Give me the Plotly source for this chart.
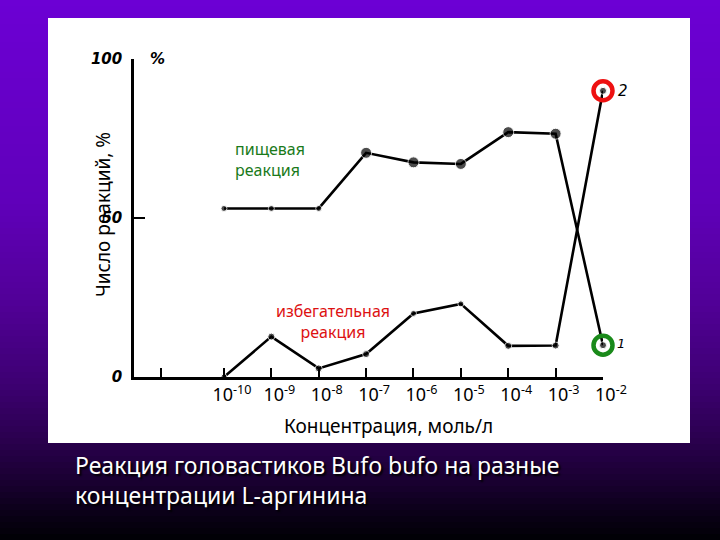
import plotly.graph_objects as go

W, H = 720, 540

# ---- data ----
exponents = [-10, -9, -8, -7, -6, -5, -4, -3, -2]
tick_labels = ["10<sup>-10</sup>", "10<sup>-9</sup>", "10<sup>-8</sup>", "10<sup>-7</sup>",
               "10<sup>-6</sup>", "10<sup>-5</sup>", "10<sup>-4</sup>", "10<sup>-3</sup>",
               "10<sup>-2</sup>"]
food = [53, 53, 53, 70.5, 67.5, 67, 77, 76.5, 10]        # пищевая реакция (1)
avoid = [0, 12.7, 2.7, 7.2, 20, 23, 9.8, 9.9, 90]        # избегательная реакция (2)
food_sizes = [6, 6, 6, 11, 11, 11, 11, 11, 7]
avoid_sizes = [6, 7, 7, 7, 6, 6, 7, 7, 7]
y_ticks = [0, 50, 100]
y_tick_labels = ["0", "50", "100"]


def px(x):
    return x / W


def py(y):
    return 1 - y / H


x_left = -10 - (224 - 134) / 47.4

fig = go.Figure()

fig.add_trace(go.Scatter(
    x=exponents, y=food, mode="lines+markers",
    line=dict(color="black", width=2.6),
    marker=dict(color="black", size=food_sizes),
    cliponaxis=False, showlegend=False))
fig.add_trace(go.Scatter(
    x=exponents, y=avoid, mode="lines+markers",
    line=dict(color="black", width=2.6),
    marker=dict(color="black", size=avoid_sizes),
    cliponaxis=False, showlegend=False))
fig.add_trace(go.Scatter(
    x=[exponents[-1]], y=[avoid[-1]], mode="markers",
    marker=dict(symbol="circle-open", size=19, color="#ee1111", line=dict(width=4.5)),
    cliponaxis=False, showlegend=False))
fig.add_trace(go.Scatter(
    x=[exponents[-1]], y=[food[-1]], mode="markers",
    marker=dict(symbol="circle-open", size=19, color="#1a8a1a", line=dict(width=4.5)),
    cliponaxis=False, showlegend=False))

stops = [(0, (108, 0, 212)), (200, (96, 0, 186)), (300, (82, 0, 152)),
         (380, (62, 0, 116)), (440, (42, 0, 78)), (480, (26, 0, 50)),
         (510, (12, 0, 26)), (540, (0, 0, 4))]


def col_at(y):
    for (y0, c0), (y1, c1) in zip(stops[:-1], stops[1:]):
        if y0 <= y <= y1:
            t = (y - y0) / (y1 - y0)
            return "rgb(%d,%d,%d)" % tuple(round(a + (b - a) * t) for a, b in zip(c0, c1))
    return "rgb(0,0,4)"


shapes = []
step = 6
for y in range(0, H, step):
    shapes.append(dict(type="rect", xref="paper", yref="paper",
                       x0=0, x1=1, y0=py(y + step + 0.5), y1=py(y),
                       fillcolor=col_at(y + step / 2), line=dict(width=0), layer="below"))
shapes.append(dict(type="rect", xref="paper", yref="paper",
                   x0=px(48), x1=px(690), y0=py(443), y1=py(18),
                   fillcolor="white", line=dict(width=0), layer="below"))

font_main = "Noto Sans, DejaVu Sans, sans-serif"

annotations = [
    dict(text="пищевая<br>реакция", x=px(233), y=py(159), xref="paper", yref="paper",
         xanchor="left", yanchor="middle", align="left", showarrow=False,
         font=dict(family=font_main, size=16, color="#1a7a1a")),
    dict(text="избегательная<br>реакция", x=px(333), y=py(321), xref="paper", yref="paper",
         xanchor="center", yanchor="middle", align="center", showarrow=False,
         font=dict(family=font_main, size=16, color="#dd1111")),
    dict(text="2", x=px(616), y=py(91), xref="paper", yref="paper",
         xanchor="left", yanchor="middle",
         showarrow=False, font=dict(family="DejaVu Sans", size=15, color="black", style="italic")),
    dict(text="1", x=px(615), y=py(343), xref="paper", yref="paper",
         xanchor="left", yanchor="middle",
         showarrow=False, font=dict(family="DejaVu Sans", size=13, color="black", style="italic")),
    dict(text="%", x=px(148), y=100, xref="paper", yref="y", xanchor="left",
         showarrow=False, font=dict(family="DejaVu Sans", size=15, color="black",
                                    style="italic", weight="bold")),
    dict(text="Концентрация, моль/л", x=px(388), y=py(426), xref="paper", yref="paper",
         xanchor="center", yanchor="middle",
         showarrow=False, font=dict(family=font_main, size=19, color="black")),
    dict(text="Число реакций, %", x=px(88), y=py(215), xref="paper", yref="paper",
         textangle=-90, showarrow=False, font=dict(family=font_main, size=19, color="black")),
    dict(text="Реакция головастиков Bufo bufo на разные<br>концентрации L-аргинина",
         x=px(73), y=py(480), xref="paper", yref="paper", xanchor="left", yanchor="middle",
         align="left", showarrow=False,
         font=dict(family=font_main, size=23, color="white", shadow="2px 2px 2px black")),
]

fig.update_layout(
    width=W, height=H, autosize=False,
    margin=dict(l=0, r=0, t=0, b=0, pad=0, autoexpand=False),
    paper_bgcolor="black", plot_bgcolor="rgba(0,0,0,0)",
    shapes=shapes, annotations=annotations,
    xaxis=dict(domain=[px(134), px(603)], range=[x_left, -2], automargin=False,
               tickvals=[-11.33] + exponents, ticktext=[""] + tick_labels,
               ticks="inside", ticklen=9, tickwidth=2, tickcolor="black",
               showline=True, linecolor="black", linewidth=2.5,
               showgrid=False, zeroline=False, ticklabelshift=8,
               tickfont=dict(family=font_main, size=18, color="black")),
    yaxis=dict(domain=[py(377), py(59)], range=[0, 100], automargin=False,
               tickvals=y_ticks, ticktext=y_tick_labels,
               ticks="inside", ticklen=11, tickwidth=2, tickcolor="black",
               showline=True, linecolor="black", linewidth=2.5,
               showgrid=False, zeroline=False, ticklabelstandoff=6,
               tickfont=dict(family="Liberation Sans Narrow, DejaVu Sans", size=15,
                             color="black", style="italic", weight="bold")),
)

fig.write_html(
    "out.html",
    config={"displayModeBar": False, "responsive": False},
    post_script=("var s=document.documentElement.style;s.margin='0';s.padding='0';s.overflow='hidden';"
                 "var b=document.body.style;b.margin='0';b.padding='0';b.overflow='hidden';"
                 "b.background='black';"))
